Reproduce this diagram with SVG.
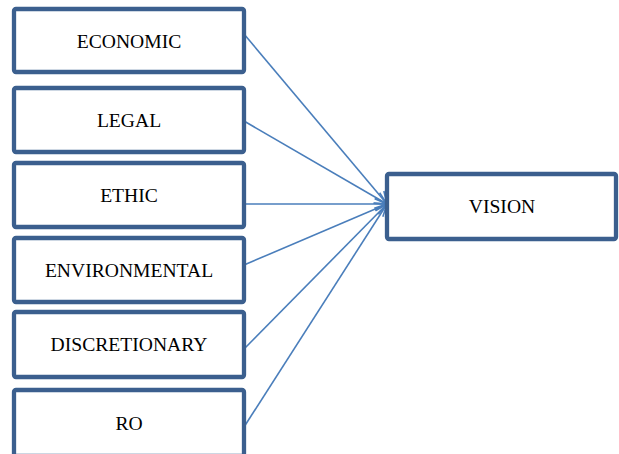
<svg xmlns="http://www.w3.org/2000/svg" width="619" height="454" viewBox="0 0 619 454">
<style>
.box{fill:#fff;stroke:#3B5F8E;stroke-width:4.3}
.lbl{font-family:"Liberation Serif","Times New Roman",serif;font-size:19.6px;fill:#000;text-anchor:middle}
.con{stroke:#4A7EBB;stroke-width:1.6;fill:none;marker-end:url(#arr)}
</style>
<defs>
<marker id="arr" markerUnits="userSpaceOnUse" markerWidth="14" markerHeight="14" refX="12" refY="6" orient="auto" overflow="visible">
<path d="M0,0 L12,6 L0,12" fill="none" stroke="#4A7EBB" stroke-width="1.6"/>
</marker>
</defs>
<rect width="619" height="454" fill="#fff"/>
<g id="connectors">
<line class="con" x1="244" y1="34" x2="387" y2="204"/>
<line class="con" x1="244" y1="121" x2="387" y2="204"/>
<line class="con" x1="244" y1="204" x2="387" y2="204"/>
<line class="con" x1="244" y1="265" x2="387" y2="204"/>
<line class="con" x1="244" y1="349" x2="387" y2="204"/>
<line class="con" x1="244" y1="427" x2="387" y2="204"/>
</g>
<g id="economic"><rect class="box" x="14" y="9" width="230" height="63" rx="2"/><text class="lbl" x="129" y="48">ECONOMIC</text></g>
<g id="legal"><rect class="box" x="14" y="88" width="230" height="64" rx="2"/><text class="lbl" x="129" y="127">LEGAL</text></g>
<g id="ethic"><rect class="box" x="14" y="163" width="230" height="64" rx="2"/><text class="lbl" x="129" y="202">ETHIC</text></g>
<g id="environmental"><rect class="box" x="14" y="238" width="230" height="64" rx="2"/><text class="lbl" x="129" y="277">ENVIRONMENTAL</text></g>
<g id="discretionary"><rect class="box" x="14" y="312" width="230" height="65" rx="2"/><text class="lbl" x="129" y="351">DISCRETIONARY</text></g>
<g id="ro"><rect class="box" x="14" y="390" width="230" height="66" rx="2"/><text class="lbl" x="129" y="430">RO</text></g>
<g id="vision"><rect class="box" x="387" y="174" width="229" height="65" rx="2"/><text class="lbl" x="502" y="213">VISION</text></g>
</svg>
